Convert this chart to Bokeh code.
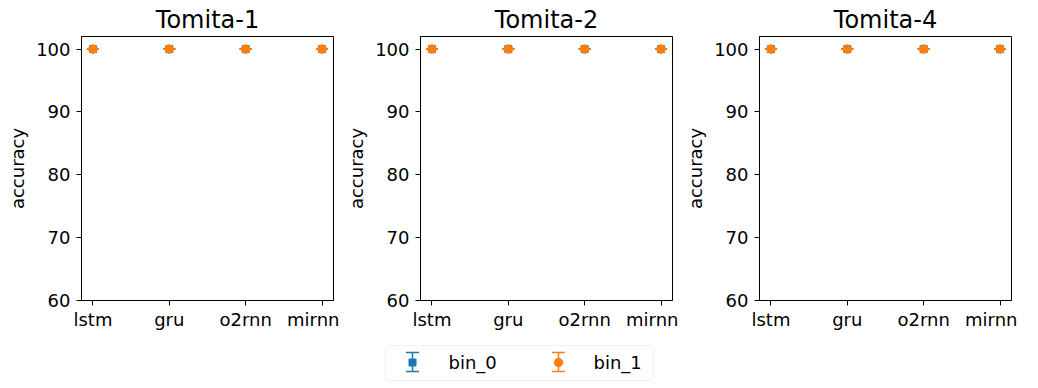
from bokeh.plotting import figure
from bokeh.layouts import row, column
from bokeh.models import FixedTicker, Range1d, BoxAnnotation, ColumnDataSource
from bokeh.core.properties import value
from bokeh.embed import file_html
from bokeh.resources import INLINE

# ---- data ----
models = ["lstm", "gru", "o2rnn", "mirnn"]
tasks = ["Tomita-1", "Tomita-2", "Tomita-4"]
series = ["bin_0", "bin_1"]
bin0_mean = [[100, 100, 100, 100], [100, 100, 100, 100], [100, 100, 100, 100]]
bin0_std = [[0, 0, 0, 0], [0, 0, 0, 0], [0, 0, 0, 0]]
bin1_mean = [[100, 100, 100, 100], [100, 100, 100, 100], [100, 100, 100, 100]]
bin1_std = [[0, 0, 0, 0], [0, 0, 0, 0], [0, 0, 0, 0]]
y_ticks = [60, 70, 80, 90, 100]

BLUE = "#1f77b4"
ORANGE = "#ff7f0e"
FONT = "DejaVu Sans"

def make_panel(ti):
    p = figure(frame_width=252, frame_height=264, output_backend="svg",
               toolbar_location=None, x_range=Range1d(-0.15, 3.15),
               y_range=Range1d(60, 102), min_border_left=81, min_border_right=6,
               min_border_top=36, min_border_bottom=30)
    p.title.text = tasks[ti]
    p.title.align = "center"
    p.title.text_font = FONT
    p.title.text_font_size = "24px"
    p.title.text_font_style = "normal"
    p.title.text_color = "black"
    p.title.standoff = 5
    p.outline_line_color = "black"
    p.outline_line_width = 1
    p.grid.visible = False
    for ax in (p.xaxis[0], p.yaxis[0]):
        ax.major_label_text_font = FONT
        ax.major_label_text_font_size = "18px"
        ax.major_label_text_color = "black"
        ax.axis_line_color = "black"
        ax.major_tick_line_color = "black"
        ax.major_tick_out = 5
        ax.major_tick_in = 0
        ax.minor_tick_line_color = None
    p.xaxis.major_label_standoff = 3
    p.yaxis.major_label_standoff = 6
    p.xaxis.ticker = FixedTicker(ticks=list(range(len(models))))
    p.xaxis.major_label_overrides = {i: m for i, m in enumerate(models)}
    p.yaxis.ticker = FixedTicker(ticks=y_ticks)
    p.yaxis.axis_label = "accuracy"
    p.yaxis.axis_label_text_font = FONT
    p.yaxis.axis_label_text_font_size = "18px"
    p.yaxis.axis_label_text_font_style = "normal"
    p.yaxis.axis_label_text_color = "black"
    p.yaxis.axis_label_standoff = 5

    xs = list(range(len(models)))
    for means, stds, col, mk, sz in ((bin0_mean[ti], bin0_std[ti], BLUE, "square", 7),
                                     (bin1_mean[ti], bin1_std[ti], ORANGE, "circle", 8.5)):
        lo = [m - s for m, s in zip(means, stds)]
        hi = [m + s for m, s in zip(means, stds)]
        src = ColumnDataSource(dict(x=xs, y=means, lo=lo, hi=hi))
        p.segment(x0="x", y0="lo", x1="x", y1="hi", source=src, line_color=col, line_width=1.5)
        p.scatter(x="x", y="lo", source=src, marker="dash", size=12, line_color=col, line_width=1.5)
        p.scatter(x="x", y="hi", source=src, marker="dash", size=12, line_color=col, line_width=1.5)
        p.scatter(x="x", y="y", source=src, marker=mk, size=sz, fill_color=col, line_color=col)
    return p

panels = [make_panel(i) for i in range(len(tasks))]

# ---- legend figure ----
LH = 58
lg = figure(width=1017, height=LH, output_backend="svg", toolbar_location=None,
            x_range=Range1d(0, 1017), y_range=Range1d(0, LH),
            min_border=0, min_border_left=0, min_border_right=0,
            min_border_top=0, min_border_bottom=0)
lg.axis.visible = False
lg.grid.visible = False
lg.outline_line_color = None
lg.add_layout(BoxAnnotation(left=385, right=653, top=LH - 13, bottom=LH - 48,
                            fill_color="white", fill_alpha=1.0, line_color="#d0d0d0",
                            line_width=1, border_radius=4, level="underlay"))
leg_x = [412, 558]
leg_txt_x = [448, 593]
for i, (col, mk, sz) in enumerate(((BLUE, "square", 7), (ORANGE, "circle", 8.5))):
    cx = leg_x[i]
    lg.segment(x0=[cx], y0=[LH - 20], x1=[cx], y1=[LH - 39], line_color=col, line_width=1.5)
    lg.scatter(x=[cx, cx], y=[LH - 20, LH - 39], marker="dash", size=13, line_color=col, line_width=1.5)
    lg.scatter(x=[cx], y=[LH - 30], marker=mk, size=sz, fill_color=col, line_color=col)
    lg.text(x=[leg_txt_x[i]], y=[LH - 30], text=[series[i]], text_font=value(FONT),
            text_font_size="18px", text_baseline="middle", text_align="left", text_color="black")

layout = column(row(*panels, spacing=0), lg, spacing=0)
open("out.html", "w").write(file_html(layout, INLINE))
